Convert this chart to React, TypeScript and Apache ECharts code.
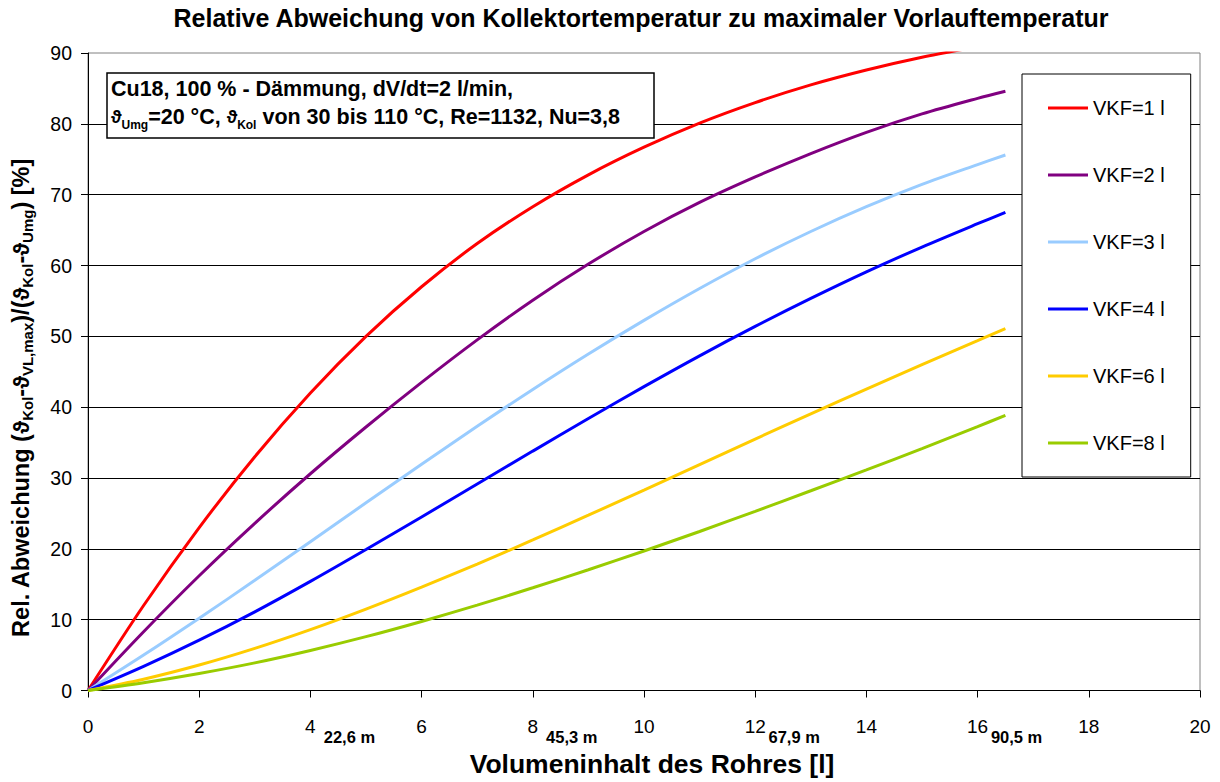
import React, { useEffect, useRef } from "react";
import * as echarts from "echarts";

// Pipe volume [l] at which each curve was evaluated
const volumes = [0, 1, 2, 3, 4, 5, 6, 7, 8, 9, 10, 11, 12, 13, 14, 15, 16, 16.5];

// Relative deviation [%] for each collector volume (VKF)
const vkf1 = [0, 12.0, 23.0, 33.0, 42.0, 50.0, 57.0, 63.1, 68.3, 72.8, 76.7, 80.1, 83.0, 85.5, 87.6, 89.4, 90.9, 91.6];
const vkf2 = [0, 8.3, 16.2, 23.6, 30.6, 37.2, 43.5, 49.5, 55.1, 60.2, 64.8, 68.9, 72.5, 75.8, 78.8, 81.4, 83.6, 84.6];
const vkf3 = [0, 5.0, 10.2, 15.55, 21.0, 26.5, 31.95, 37.3, 42.5, 47.5, 52.25, 56.75, 60.95, 64.8, 68.3, 71.45, 74.25, 75.6];
const vkf4 = [0, 3.4, 7.1, 11.1, 15.4, 19.9, 24.5, 29.15, 33.8, 38.4, 42.9, 47.25, 51.4, 55.35, 59.1, 62.6, 65.9, 67.5];
const vkf6 = [0, 1.6, 3.6, 5.95, 8.6, 11.5, 14.6, 17.85, 21.25, 24.75, 28.3, 31.9, 35.5, 39.05, 42.55, 46.0, 49.4, 51.1];
const vkf8 = [0, 1.1, 2.4, 3.9, 5.65, 7.6, 9.75, 12.05, 14.5, 17.05, 19.7, 22.45, 25.3, 28.2, 31.15, 34.15, 37.25, 38.85];

const seriesNames = ["VKF=1 l", "VKF=2 l", "VKF=3 l", "VKF=4 l", "VKF=6 l", "VKF=8 l"];
const seriesValues = [vkf1, vkf2, vkf3, vkf4, vkf6, vkf8];
const seriesColors = ["#ff0000", "#800080", "#99ccff", "#0000ff", "#ffcc00", "#99cc00"];

// Axis ranges
const xMin = 0;
const xMax = 20;
const xStep = 2;
const yMin = 0;
const yMax = 90;
const yStep = 10;

// Pipe lengths belonging to selected volumes
const lengthAtVolume = [4, 8, 12, 16];
const lengthLabels = ["22,6 m", "45,3 m", "67,9 m", "90,5 m"];

const FONT = "Arial, 'Liberation Sans', Helvetica, sans-serif";

export default function App() {
  const ref = useRef<HTMLDivElement>(null);

  useEffect(() => {
    if (!ref.current) return;
    const chart = echarts.init(ref.current, null, { renderer: "svg" });

    const subStyle = (size: number, lh: number) => ({
      fontFamily: FONT,
      fontWeight: "bold",
      fontSize: size,
      lineHeight: lh,
      verticalAlign: "bottom",
      fill: "#000",
    });

    const baseGraphic: any[] = [
      {
        id: "title",
        type: "text",
        x: 641,
        y: 18,
        style: {
          text: "Relative Abweichung von Kollektortemperatur zu maximaler Vorlauftemperatur",
          font: `bold 25px ${FONT}`,
          fill: "#000",
          align: "center",
          verticalAlign: "middle",
        },
      },
      {
        id: "ytitle",
        type: "text",
        x: 21,
        y: 398,
        rotation: Math.PI / 2,
        style: {
          text:
            "{b|Rel. Abweichung (}{t|ϑ}{s|Kol}{b|-}{t|ϑ}{s|VL,max}{b|)/(}{t|ϑ}{s|Kol}{b|-}{t|ϑ}{s|Umg}{b|) [%]}",
          align: "center",
          verticalAlign: "middle",
          rich: {
            b: { fontFamily: FONT, fontWeight: "bold", fontSize: 23.5, lineHeight: 28, fill: "#000" },
            t: { fontFamily: FONT, fontWeight: "bold", fontSize: 22, lineHeight: 28, fill: "#000" },
            s: subStyle(15, 15),
          },
        },
      },
      {
        id: "infobox",
        type: "rect",
        shape: { x: 107, y: 73, width: 547, height: 65 },
        style: { fill: "#fff", stroke: "#000", lineWidth: 1.5 },
        z: 10,
      },
      {
        id: "infotext",
        type: "text",
        x: 111,
        y: 75,
        z: 11,
        style: {
          text:
            "{b|Cu18, 100 % - Dämmung, dV/dt=2 l/min,}\n{t|ϑ}{s|Umg}{b|=20 °C, }{t|ϑ}{s|Kol}{b| von 30 bis 110 °C, Re=1132, Nu=3,8}",
          align: "left",
          verticalAlign: "top",
          rich: {
            b: { fontFamily: FONT, fontWeight: "bold", fontSize: 21.5, lineHeight: 28, fill: "#000" },
            t: { fontFamily: FONT, fontWeight: "bold", fontSize: 18, lineHeight: 28, fill: "#000" },
            s: subStyle(12, 14),
          },
        },
      },
    ];

    const option: any = {
      animation: false,
      backgroundColor: "#fff",
      textStyle: { fontFamily: FONT },
      grid: {
        left: 88,
        top: 53,
        right: 20,
        bottom: 85,
        show: true,
        borderColor: "#808080",
        borderWidth: 1,
        backgroundColor: "transparent",
      },
      legend: {
        orient: "vertical",
        left: 1022,
        top: 74,
        data: seriesNames,
        icon: "rect",
        itemWidth: 40,
        itemHeight: 3,
        itemGap: 47,
        padding: [24, 26, 24, 26],
        borderColor: "#000",
        borderWidth: 1,
        backgroundColor: "#fff",
        textStyle: { fontFamily: FONT, fontSize: 20, color: "#000", lineHeight: 20 },
      },
      xAxis: {
        type: "value",
        min: xMin,
        max: xMax,
        interval: xStep,
        name: "Volumeninhalt des Rohres [l]",
        nameLocation: "middle",
        nameGap: 60,
        nameTextStyle: {
          fontFamily: FONT,
          fontWeight: "bold",
          fontSize: 26.5,
          lineHeight: 26,
          color: "#000",
          padding: [0, 0, 0, 16],
        },
        axisLine: { show: true, onZero: false, lineStyle: { color: "#000", width: 1 } },
        axisTick: { show: true, length: 7, lineStyle: { color: "#000" } },
        axisLabel: { color: "#000", fontSize: 19, fontFamily: FONT, margin: 26 },
        splitLine: { show: false },
      },
      yAxis: {
        type: "value",
        min: yMin,
        max: yMax,
        interval: yStep,
        axisLine: { show: true, lineStyle: { color: "#000", width: 1 } },
        axisTick: { show: true, length: 7, lineStyle: { color: "#000" } },
        axisLabel: { color: "#000", fontSize: 19.5, fontFamily: FONT, margin: 16 },
        splitLine: {
          show: true,
          showMinLine: false,
          showMaxLine: false,
          lineStyle: { color: "#000", width: 1 },
        },
      },
      series: seriesNames.map((name, i) => ({
        name,
        type: "line",
        data: volumes.map((v, j) => [v, seriesValues[i][j]]),
        symbol: "none",
        smooth: 0.3,
        clip: true,
        lineStyle: { color: seriesColors[i], width: 3 },
        itemStyle: { color: seriesColors[i] },
        z: 3 + i,
      })),
      graphic: baseGraphic,
    };

    chart.setOption(option);

    // pipe length annotations placed under the matching volume ticks
    const lengthGraphic = lengthAtVolume.map((v, i) => {
      const p = chart.convertToPixel({ gridIndex: 0 }, [v, yMin]) as number[];
      return {
        id: "len" + i,
        type: "text",
        x: p[0] + 39,
        y: p[1] + 46,
        style: {
          text: lengthLabels[i],
          font: `bold 16.5px ${FONT}`,
          fill: "#000",
          align: "center",
          verticalAlign: "middle",
        },
      };
    });
    chart.setOption({ graphic: [...baseGraphic, ...lengthGraphic] });

    return () => chart.dispose();
  }, []);

  return (
    <div
      ref={ref}
      style={{ position: "absolute", left: 0, top: 0, width: 1220, height: 782, background: "#fff" }}
    />
  );
}
